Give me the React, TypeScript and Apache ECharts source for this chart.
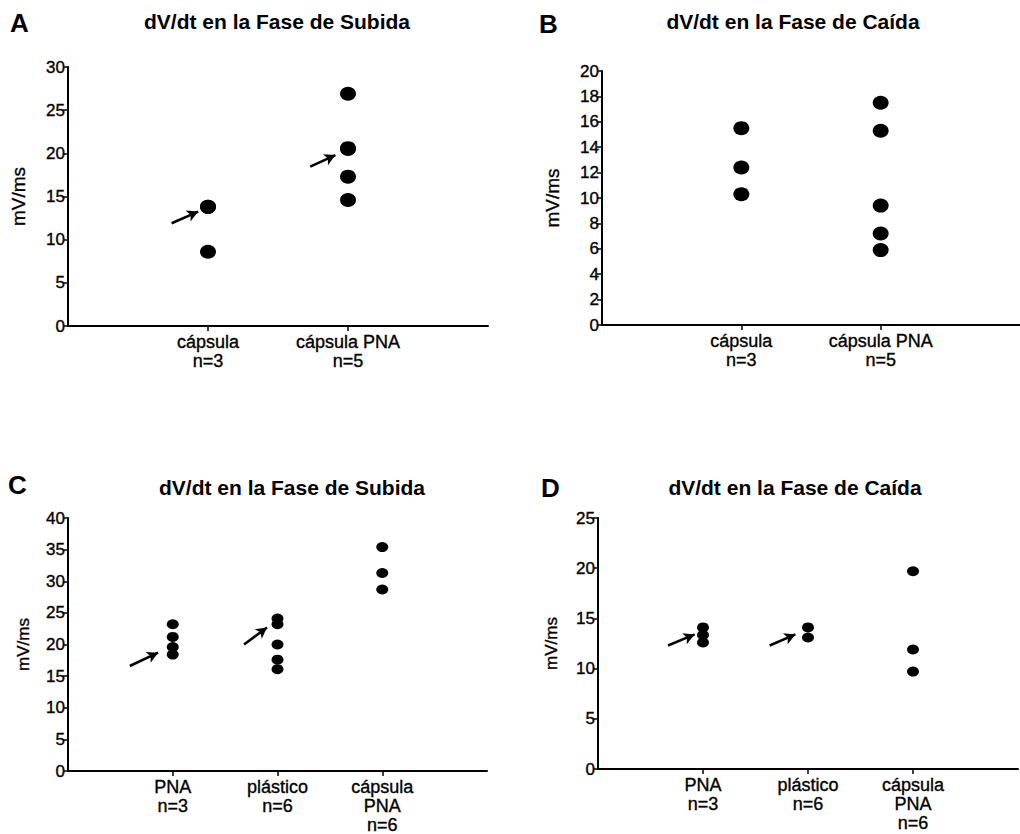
import React, { useEffect, useRef } from "react";
import * as echarts from "echarts";

// ---------- data ----------
const catsA = ["cápsula\nn=3", "cápsula PNA\nn=5"];
const riseA_capsula = [13.8, 13.8, 8.6];
const riseA_capsulaPNA = [26.9, 20.6, 20.5, 17.3, 14.6];
const arrowsA = [
  [0.74, 11.9, 0.93, 13.25],
  [1.73, 18.45, 1.91, 19.8],
];

const catsB = ["cápsula\nn=3", "cápsula PNA\nn=5"];
const fallB_capsula = [15.5, 12.4, 10.3];
const fallB_capsulaPNA = [17.5, 15.3, 9.4, 7.2, 5.9];

const catsC = ["PNA\nn=3", "plástico\nn=6", "cápsula\nPNA\nn=6"];
const riseC_PNA = [23.2, 21.2, 19.6, 18.4];
const riseC_plastico = [24.1, 23.2, 20.0, 17.6, 16.1];
const riseC_capsulaPNA = [35.4, 31.3, 28.7];
const arrowsC = [
  [0.59, 16.6, 0.86, 18.7],
  [1.68, 20.0, 1.9, 22.7],
];

const catsD = ["PNA\nn=3", "plástico\nn=6", "cápsula\nPNA\nn=6"];
const fallD_PNA = [14.1, 13.35, 12.6];
const fallD_plastico = [14.1, 13.1];
const fallD_capsulaPNA = [19.7, 11.9, 9.7];
const arrowsD = [
  [0.667, 12.3, 0.92, 13.4],
  [1.635, 12.3, 1.88, 13.4],
];

const yMaxes = [30, 20, 40, 25];
const yIntervals = [5, 2, 5, 5];

const titleSubida = "dV/dt en la Fase de Subida";
const titleCaida = "dV/dt en la Fase de Caída";
const yName = "mV/ms";

// ---------- helpers ----------
const FONT = "'Liberation Sans', Arial, Helvetica, sans-serif";

function points(groups: number[][]) {
  const out: number[][] = [];
  groups.forEach((vals, i) => vals.forEach((v) => out.push([i + 1, v])));
  return out;
}

function arrowLines(arrows: number[][]) {
  return arrows.map((a) => [{ coord: [a[0], a[1]] }, { coord: [a[2], a[3]] }]);
}

export default function App() {
  const ref = useRef<HTMLDivElement>(null);

  useEffect(() => {
    document.body.style.margin = "0";
    const chart = echarts.init(ref.current!, null, { renderer: "svg" });

    const grids = [
      { left: 68, top: 67, width: 420, height: 259 },
      { left: 602, top: 71, width: 418, height: 254 },
      { left: 68, top: 518, width: 419, height: 253 },
      { left: 598, top: 518, width: 420, height: 251 },
    ];
    const cats = [catsA, catsB, catsC, catsD];
    const nameGaps = [40, 40, 36, 38];
    const nameSizes = [19, 19, 17, 17];
    const heavy = { textBorderColor: "#000", textBorderWidth: 0.35 };

    const xAxis = cats.map((c, i) => ({
      type: "value",
      gridIndex: i,
      min: 0,
      max: c.length + 1,
      interval: 1,
      axisLine: { show: true, lineStyle: { color: "#000", width: 2 } },
      axisTick: {
        show: true,
        customValues: c.map((_, k) => k + 1),
        length: 5,
        lineStyle: { color: "#000", width: 1.5 },
      },
      axisLabel: {
        show: true,
        customValues: c.map((_, k) => k + 1),
        formatter: (v: number) => c[Math.round(v) - 1] ?? "",
        color: "#000",
        fontSize: 18,
        fontFamily: FONT,
        lineHeight: 19,
        margin: 6,
        ...heavy,
      },
      splitLine: { show: false },
    }));

    const yAxis = yMaxes.map((m, i) => ({
      type: "value",
      gridIndex: i,
      min: 0,
      max: m,
      interval: yIntervals[i],
      name: yName,
      nameLocation: "middle",
      nameRotate: 90,
      nameGap: nameGaps[i],
      nameTextStyle: { color: "#000", fontSize: nameSizes[i], fontFamily: FONT, ...heavy },
      axisLine: { show: true, lineStyle: { color: "#000", width: 2 } },
      axisTick: { show: true, length: 5, lineStyle: { color: "#000", width: 1.5 } },
      axisLabel: { color: "#000", fontSize: 17, fontFamily: FONT, margin: 3, ...heavy },
      splitLine: { show: false },
    }));

    const dotBig = [16, 14];
    const dotSmall = [12, 10];
    const markArrows = (arrows: number[][]) => ({
      silent: true,
      symbol: ["none", "arrow"],
      symbolSize: [9, 11],
      label: { show: false },
      lineStyle: { color: "#000", width: 2.5, type: "solid" },
      emphasis: { disabled: true },
      data: arrowLines(arrows),
    });

    const series: any[] = [
      {
        type: "scatter",
        xAxisIndex: 0,
        yAxisIndex: 0,
        symbolSize: dotBig,
        itemStyle: { color: "#000", opacity: 1 },
        data: points([riseA_capsula, riseA_capsulaPNA]),
        markLine: markArrows(arrowsA),
      },
      {
        type: "scatter",
        xAxisIndex: 1,
        yAxisIndex: 1,
        symbolSize: dotBig,
        itemStyle: { color: "#000", opacity: 1 },
        data: points([fallB_capsula, fallB_capsulaPNA]),
      },
      {
        type: "scatter",
        xAxisIndex: 2,
        yAxisIndex: 2,
        symbolSize: dotSmall,
        itemStyle: { color: "#000", opacity: 1 },
        data: points([riseC_PNA, riseC_plastico, riseC_capsulaPNA]),
        markLine: markArrows(arrowsC),
      },
      {
        type: "scatter",
        xAxisIndex: 3,
        yAxisIndex: 3,
        symbolSize: dotSmall,
        itemStyle: { color: "#000", opacity: 1 },
        data: points([fallD_PNA, fallD_plastico, fallD_capsulaPNA]),
        markLine: markArrows(arrowsD),
      },
    ];

    const letter = (t: string, x: number, y: number) => ({
      type: "text",
      x,
      y,
      style: {
        text: t,
        fill: "#000",
        font: `bold 26px ${FONT}`,
        textAlign: "left",
        textVerticalAlign: "middle",
      },
    });
    const title = (t: string, x: number, y: number) => ({
      type: "text",
      x,
      y,
      style: {
        text: t,
        fill: "#000",
        font: `bold 21px ${FONT}`,
        textAlign: "center",
        textVerticalAlign: "middle",
      },
    });

    chart.setOption({
      animation: false,
      backgroundColor: "#fff",
      grid: grids,
      xAxis,
      yAxis,
      series,
      graphic: [
        letter("A", 10, 23),
        title(titleSubida, 277, 21),
        letter("B", 539, 24),
        title(titleCaida, 793, 21),
        letter("C", 8, 485),
        title(titleSubida, 292, 487),
        letter("D", 541, 488),
        title(titleCaida, 795, 487),
      ],
    });

    return () => chart.dispose();
  }, []);

  return <div ref={ref} style={{ width: 1020, height: 834 }} />;
}
